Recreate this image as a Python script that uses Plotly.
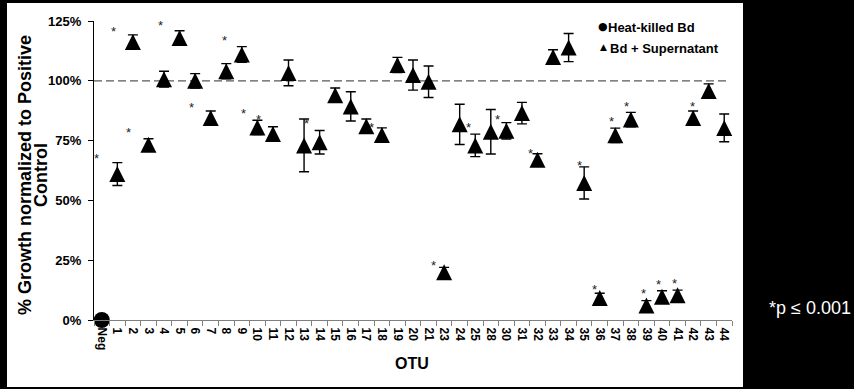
import plotly.graph_objects as go

# Negative control (heat-killed Bd)
neg_label = ["Neg"]
neg_pct = [0.0]

# OTU supernatant assays: growth as % of positive control, with error
otu_labels = ["1", "2", "3", "4", "5", "6", "7", "8", "9", "10",
              "11", "12", "13", "14", "15", "16", "17", "18", "19", "20",
              "21", "23", "24", "25", "28", "30", "31", "32", "33", "34",
              "35", "36", "37", "38", "39", "40", "41", "42", "43", "44"]
growth_pct = [61.0, 116.2, 73.3, 100.7, 117.9, 100.0, 84.4, 104.0, 111.0, 80.5,
              77.8, 103.3, 73.0, 74.3, 94.0, 89.3, 81.0, 77.3, 106.6, 102.4,
              99.6, 20.0, 81.8, 73.0, 78.7, 79.1, 86.5, 67.0, 110.0, 113.9,
              57.3, 9.2, 77.2, 83.8, 6.1, 9.7, 10.3, 84.4, 95.7, 80.3]
growth_err = [4.8, 3.0, 2.5, 3.3, 3.0, 3.0, 3.0, 3.2, 3.3, 3.0,
              3.0, 5.4, 11.0, 4.9, 3.0, 6.1, 3.0, 3.0, 3.2, 6.3,
              6.6, 2.0, 8.4, 4.7, 9.3, 3.4, 4.5, 2.5, 3.0, 5.9,
              6.7, 2.0, 3.0, 3.0, 2.0, 2.5, 2.2, 3.0, 3.0, 5.8]

# OTUs significantly different from the positive control (p <= 0.001)
significant = ["1", "2", "3", "5", "7", "9", "10", "11", "13", "17", "23", "24",
               "28", "32", "35", "36", "37", "38", "39", "40", "41", "42"]

y_ticks = [0, 25, 50, 75, 100, 125]

# screen offsets (px) of each asterisk from its point
star_offsets = {
    "1": (-21, -19), "2": (-19, -14), "3": (-20, -15), "5": (-19, -15),
    "7": (-19, -14), "9": (-17, -17), "10": (-14, -17), "11": (-14, -17),
    "13": (2, -25), "17": (5, -2), "23": (-11, -10), "24": (9, 0),
    "28": (7, -15), "32": (-7, -9), "35": (-5, -20), "36": (-5, -11),
    "37": (-4, -17), "38": (-4, -16), "39": (-3, -15), "40": (-3, -15),
    "41": (-3, -15), "42": (-1, -15),
}

W, H = 854, 389
ML, MR, MT, MB = 94, 122, 21, 69
PW, PH = W - ML - MR, H - MT - MB


def px_x(px):
    return (px - ML) / PW


def px_y(py):
    return (H - MB - py) / PH


FONT = "Liberation Sans, Arial, sans-serif"
categories = neg_label + otu_labels

fig = go.Figure()

fig.add_trace(go.Scatter(
    x=neg_label, y=neg_pct, mode="markers", name="Heat-killed Bd",
    marker=dict(symbol="circle", size=16, color="black"),
    cliponaxis=False, showlegend=False,
))

tri = 16
fig.add_trace(go.Scatter(
    x=otu_labels, y=growth_pct, mode="markers", name="Bd + Supernatant",
    marker=dict(symbol="arrow-down", angle=180, standoff=tri / 2, size=tri,
                color="black", line=dict(width=0)),
    error_y=dict(type="data", array=growth_err, visible=True,
                 color="black", thickness=1.4, width=5),
    cliponaxis=False, showlegend=False,
))


def paper_text(px, py, text, size, color="black", weight="normal",
               family=FONT, xanchor="center", angle=0):
    return dict(x=px_x(px), y=px_y(py), xref="paper", yref="paper",
                showarrow=False, text=text, textangle=angle,
                xanchor=xanchor, yanchor="middle",
                font=dict(family=family, size=size, color=color, weight=weight))


annotations = []
value_of = dict(zip(otu_labels, growth_pct))
for lab in significant:
    dx, dy = star_offsets[lab]
    annotations.append(dict(
        x=categories.index(lab), y=value_of[lab], xref="x", yref="y",
        text="*", showarrow=False, xanchor="center", yanchor="middle",
        xshift=dx, yshift=-dy - 3, font=dict(family=FONT, size=13, color="#222"),
    ))

# axis titles
annotations += [
    paper_text(25, 175, "% Growth normalized to Positive", 18, weight="bold", angle=-90),
    paper_text(41, 175, "Control", 18, weight="bold", angle=-90),
    paper_text(412, 364, "OTU", 16, weight="bold"),
]

# key and footnote
annotations += [
    paper_text(603, 27, "●", 11, family="DejaVu Sans"),
    paper_text(603, 47, "▲", 9, family="DejaVu Sans"),
    paper_text(606, 28, "Heat-killed Bd", 13, weight="bold", xanchor="left"),
    paper_text(608, 48, "Bd + Supernatant", 13, weight="bold", xanchor="left"),
    paper_text(810, 308, "*p ≤ 0.001", 18, color="white"),
]

shapes = [
    # white chart panel on the dark page
    dict(type="rect", xref="paper", yref="paper",
         x0=px_x(7), x1=px_x(743), y0=px_y(387), y1=px_y(3),
         fillcolor="white", line=dict(width=0), layer="below"),
    # 100% reference
    dict(type="line", xref="x domain", yref="y", x0=0, x1=px_x(728), y0=100, y1=100,
         line=dict(color="#595959", width=1.3, dash="8px,4px"), layer="below"),
]

fig.update_layout(
    width=W, height=H,
    margin=dict(l=ML, r=MR, t=MT, b=MB, pad=0),
    paper_bgcolor="black", plot_bgcolor="white",
    font=dict(family=FONT, color="black"),
    showlegend=False,
    annotations=annotations,
    shapes=shapes,
)

fig.update_xaxes(
    type="category", categoryorder="array", categoryarray=categories,
    range=[-0.5, len(otu_labels) + 0.5],
    showline=True, linecolor="#808080", linewidth=1.3,
    ticks="outside", tickson="boundaries", ticklen=5, tickcolor="#808080",
    ticklabelstandoff=4,
    tickangle=90, tickfont=dict(family=FONT, size=12, color="black", weight="bold"),
    showgrid=False, zeroline=False,
)
fig.update_yaxes(
    range=[0, 125], tickvals=y_ticks, ticktext=[f"{v}%" for v in y_ticks],
    showline=True, linecolor="black", linewidth=1.2,
    ticks="outside", ticklen=5, tickcolor="black", ticklabelstandoff=4,
    tickfont=dict(family=FONT, size=13, color="black", weight="bold"),
    showgrid=False, zeroline=False,
)

fig.write_html("out.html", config={"displayModeBar": False})
